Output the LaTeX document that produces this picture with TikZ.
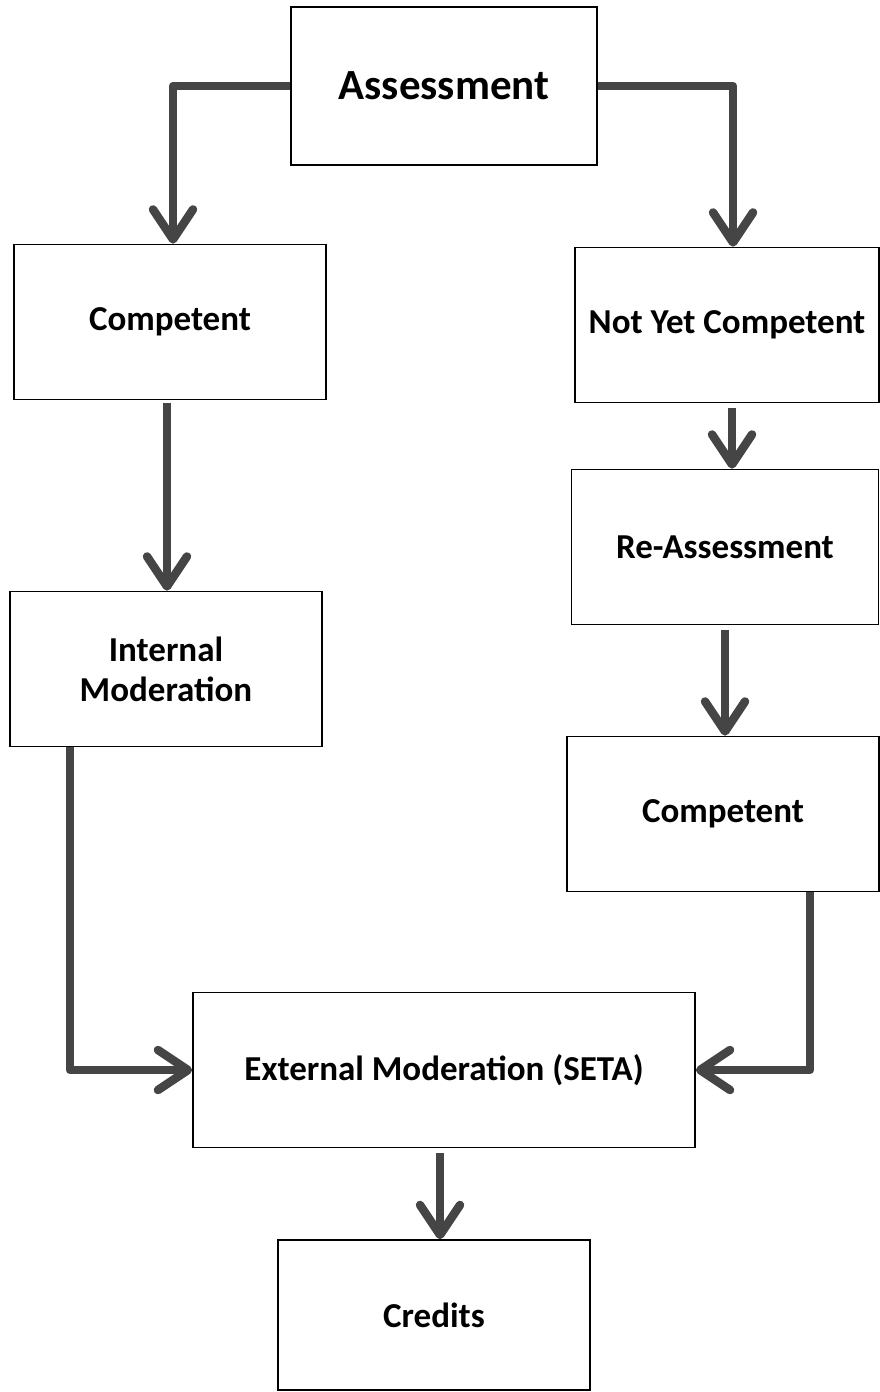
\documentclass[tikz,border=0pt]{standalone}
\usepackage{fontspec}
\setmainfont{Carlito}
\usetikzlibrary{arrows.meta}
\definecolor{arrowgray}{HTML}{454545}
\begin{document}
\begin{tikzpicture}[x=1pt, y=-1pt,
    stage/.style={draw, line width=1.6pt, minimum width=312pt, minimum height=155pt,
      inner sep=0pt, align=center, font=\fontsize{35}{40}\selectfont\bfseries},
    flow/.style={draw=arrowgray, line width=8.5pt, line join=round,
      -{Straight Barb[length=30pt, width=40pt, round]}}]

          \useasboundingbox (0,0) rectangle (880,1392);

          \node[stage, minimum width=306pt, minimum height=158pt,
            font=\fontsize{43}{48}\selectfont\bfseries] (assess) at (444,86) {Assessment};
          \node[stage] (comp) at (170,322) {Competent};
          \node[stage, minimum width=304pt] (notyet) at (727,325) {Not Yet Competent};
          \node[stage, minimum width=307pt] (reassess) at (725,547) {Re-Assessment};
          \node[stage] (intmod) at (166,669) {Internal\\Moderation};
          \node[stage] (recomp) at (723,814) {Competent};
          \node[stage, minimum width=502pt] (extmod) at (444,1070) {External Moderation (SETA)};
          \node[stage, minimum height=150pt] (credits) at (434,1315) {Credits};

          \coordinate (intdrop) at ([xshift=-96pt]intmod.south);
          \coordinate (compdrop) at ([xshift=87pt]recomp.south);

          % left and right branches
          \draw[flow] (assess.west) -| ([xshift=3pt]comp.north);
          \draw[flow] (assess.east) -| ([xshift=6pt]notyet.north);
          \draw[flow, shorten <=3pt] ([xshift=-3pt]comp.south) -- ([xshift=-3pt]comp.south |- intmod.north);
          \draw[flow, shorten <=5pt] ([xshift=5pt]notyet.south) -- ([xshift=5pt]notyet.south |- reassess.north);
          \draw[flow, shorten <=5pt] (reassess.south) -- (reassess.south |- recomp.north);

          % into external moderation
          \draw[flow] (intdrop) |- (extmod.west);
          \draw[flow] (compdrop) |- (extmod.east);
          \draw[flow, shorten <=5pt] ([xshift=-4pt]extmod.south) -- ([xshift=-4pt]extmod.south |- credits.north);
        \end{tikzpicture}
\end{document}
